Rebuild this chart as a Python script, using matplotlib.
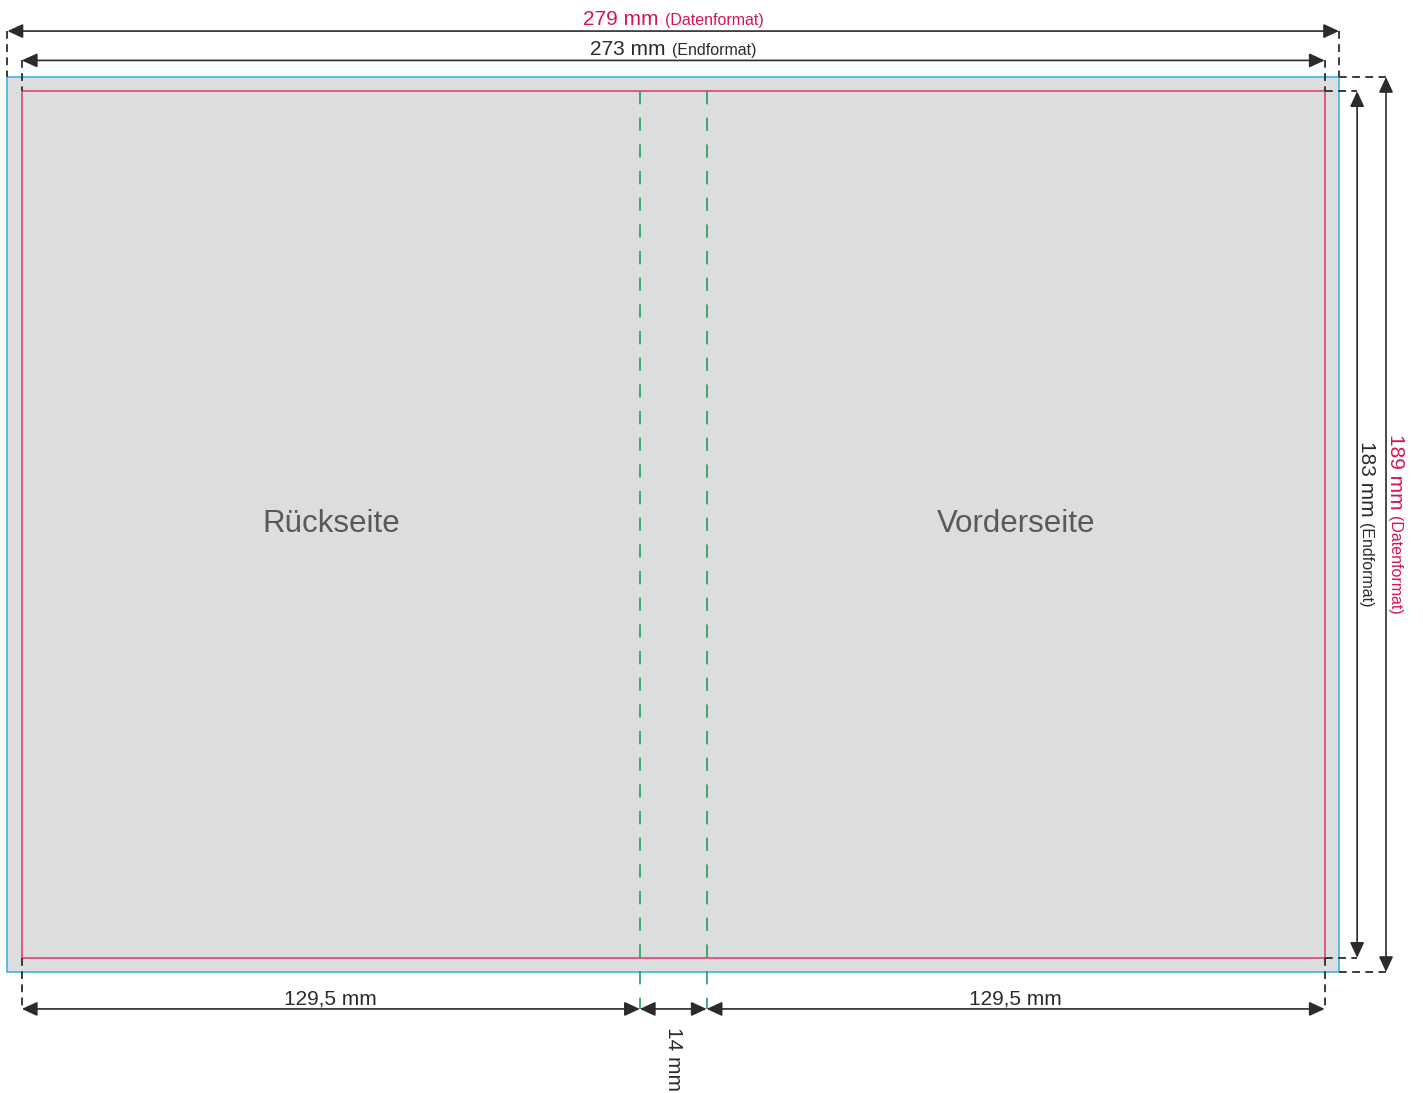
import matplotlib
matplotlib.use('Agg')
import matplotlib.pyplot as plt
from matplotlib.patches import Rectangle, FancyArrowPatch
from matplotlib import transforms

plt.rcParams['font.family'] = ['Liberation Sans', 'DejaVu Sans']

# ---- data (mm) ----
data_width = 279
data_height = 189
bleed = 3
end_width = 273
end_height = 183
panel_width = 129.5
spine_width = 14
panel_labels = ['Rückseite', 'Vorderseite']
data_label = '(Datenformat)'
end_label = '(Endformat)'

def fmt(v):
    return f"{v:g}".replace('.', ',') + ' mm'

# ---- colours ----
FILL = '#dcdddf'
BLUE = '#3db5e6'
RED = '#e2407a'
GREEN = '#1f9e5a'
DARK = '#2b2b2b'
CRIMSON = '#d4145a'
GREY_TXT = '#58595b'

# ---- figure with mm-based data coordinates ----
W, H = 1423, 1093
fig = plt.figure(figsize=(W / 100, H / 100), dpi=100)
ax = fig.add_axes([0, 0, 1, 1])
x0_px, x1_px = 7.5, 1339
y0_px, y1_px = 77, 972
sx = (x1_px - x0_px) / data_width
sy = (y1_px - y0_px) / data_height
ax.set_xlim(-x0_px / sx, (W - x0_px) / sx)
ax.set_ylim((H - y0_px) / sy, -y0_px / sy)
ax.axis('off')

# layout offsets (mm)
top_data_line = -9.7
top_end_line = -3.5
right_end_line = data_width + 3.8
right_data_line = data_width + 9.85
bottom_line = data_height + 7.8

# rectangles
ax.add_patch(Rectangle((0, 0), data_width, data_height, facecolor=FILL,
                       edgecolor=BLUE, lw=1.2, zorder=1))
ax.add_patch(Rectangle((bleed, bleed), end_width, end_height, facecolor='none',
                       edgecolor=RED, lw=1.2, zorder=2))

# spine lines
spine_left = bleed + panel_width
spine_right = spine_left + spine_width
for xs in (spine_left, spine_right):
    ax.plot([xs, xs], [bleed, bottom_line], color=GREEN, lw=1.2,
            linestyle=(0, (8, 8)), zorder=3)

# dashed extension lines
ext = dict(color=DARK, lw=1.3, linestyle=(0, (4.3, 3)), zorder=3)
ax.plot([0, 0], [top_data_line, 0], **ext)
ax.plot([data_width, data_width], [top_data_line, 0], **ext)
ax.plot([bleed, bleed], [top_end_line, bleed], **ext)
ax.plot([bleed + end_width] * 2, [top_end_line, bleed], **ext)
ax.plot([data_width, right_data_line], [0, 0], **ext)
ax.plot([data_width, right_data_line], [data_height, data_height], **ext)
ax.plot([bleed + end_width, right_end_line], [bleed, bleed], **ext)
ax.plot([bleed + end_width, right_end_line], [bleed + end_height] * 2, **ext)
ax.plot([bleed, bleed], [bleed + end_height, bottom_line], **ext)
ax.plot([bleed + end_width] * 2, [bleed + end_height, bottom_line], **ext)

def dim(p0, p1):
    a = FancyArrowPatch(p0, p1, arrowstyle='<|-|>,head_length=0.78,head_width=0.36',
                        mutation_scale=12, color=DARK, lw=1.2,
                        shrinkA=0, shrinkB=0, zorder=4)
    ax.add_patch(a)

dim((0, top_data_line), (data_width, top_data_line))
dim((bleed, top_end_line), (bleed + end_width, top_end_line))
dim((right_end_line, bleed), (right_end_line, bleed + end_height))
dim((right_data_line, 0), (right_data_line, data_height))
dim((bleed, bottom_line), (spine_left, bottom_line))
dim((spine_left, bottom_line), (spine_right, bottom_line))
dim((spine_right, bottom_line), (bleed + end_width, bottom_line))

# panel labels
for i, lab in enumerate(panel_labels):
    cx = bleed + panel_width / 2 + i * (panel_width + spine_width)
    ax.text(cx, data_height / 2 - 0.2, lab, ha='center', va='center',
            fontsize=22.5, color=GREY_TXT, zorder=5)

# bottom labels
for cx in (bleed + panel_width / 2, spine_right + panel_width / 2):
    ax.text(cx, bottom_line - 1.0, fmt(panel_width), ha='center', va='baseline',
            fontsize=15, color=DARK, zorder=5)
ax.text(spine_left + spine_width / 2, bottom_line + 10.6, fmt(spine_width),
        rotation=-90, rotation_mode='anchor', ha='center', va='center',
        fontsize=15, color=DARK, zorder=5)

# two-part labels
def two_part(x, y, main, sub, color, vertical=False):
    renderer = fig.canvas.get_renderer()
    kw = dict(rotation=-90 if vertical else 0, rotation_mode='anchor',
              ha='left', va='baseline', color=color, zorder=5)
    t1 = ax.text(x, y, main, fontsize=15, **kw)
    t2 = ax.text(x, y, sub, fontsize=11.5, **kw)
    b1 = t1.get_window_extent(renderer)
    b2 = t2.get_window_extent(renderer)
    gap = 6
    if vertical:
        L1, L2 = b1.height, b2.height
        tot = L1 + gap + L2
        t1.set_transform(transforms.offset_copy(ax.transData, fig, x=0, y=tot / 2, units='dots'))
        t2.set_transform(transforms.offset_copy(ax.transData, fig, x=0, y=tot / 2 - L1 - gap, units='dots'))
    else:
        L1, L2 = b1.width, b2.width
        tot = L1 + gap + L2
        t1.set_transform(transforms.offset_copy(ax.transData, fig, x=-tot / 2, y=0, units='dots'))
        t2.set_transform(transforms.offset_copy(ax.transData, fig, x=-tot / 2 + L1 + gap, y=0, units='dots'))

fig.canvas.draw()
two_part(data_width / 2, top_data_line - 1.3, fmt(data_width), data_label, CRIMSON)
two_part(data_width / 2, top_end_line - 1.2, fmt(end_width), end_label, DARK)
two_part(right_end_line + 0.8, data_height / 2, fmt(end_height), end_label, DARK, vertical=True)
two_part(right_data_line + 0.8, data_height / 2, fmt(data_height), data_label, CRIMSON, vertical=True)

fig.savefig('out.png', dpi=100, facecolor='white')
